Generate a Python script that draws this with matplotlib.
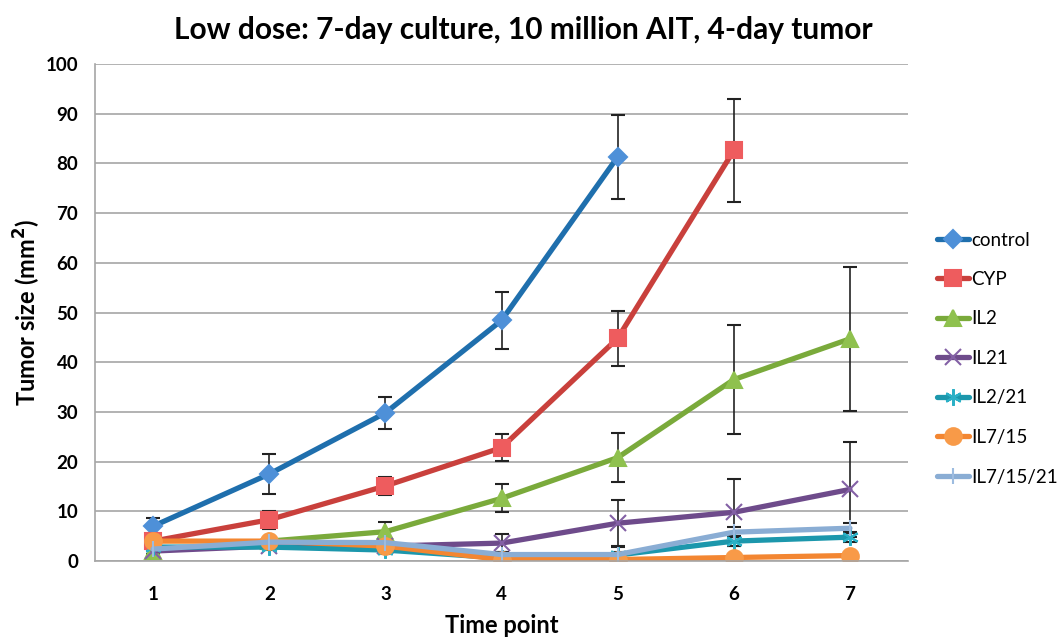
import matplotlib
matplotlib.use('Agg')
import matplotlib.pyplot as plt
import numpy as np

# data
time_points = [1, 2, 3, 4, 5, 6, 7]
series_names = ['control', 'CYP', 'IL2', 'IL21', 'IL2/21', 'IL7/15', 'IL7/15/21']

control = [7.0, 17.5, 29.8, 48.4, 81.3, np.nan, np.nan]
control_err = [1.6, 4.0, 3.2, 5.8, 8.5, np.nan, np.nan]
cyp = [4.0, 8.3, 15.1, 22.8, 44.8, 82.6, np.nan]
cyp_err = [0.6, 1.8, 1.8, 2.7, 5.6, 10.4, np.nan]
il2 = [2.0, 4.0, 5.9, 12.6, 20.8, 36.5, 44.7]
il2_err = [0.5, 0.6, 2.0, 2.8, 5.0, 11.0, 14.5]
il21 = [2.0, 3.0, 3.0, 3.6, 7.6, 9.8, 14.4]
il21_err = [0.5, 0.6, 0.8, 1.8, 4.6, 6.7, 9.6]
il2_21 = [2.8, 2.8, 2.2, 0.6, 1.2, 4.0, 4.8]
il2_21_err = [0.6, 0.6, 0.7, 0.4, 0.6, 1.0, 1.0]
il7_15 = [4.0, 4.0, 3.0, 0.3, 0.3, 0.7, 1.1]
il7_15_err = [0.4, 0.4, 0.5, 0.2, 0.2, 0.3, 0.3]
il7_15_21 = [2.4, 3.8, 3.7, 1.3, 1.3, 5.8, 6.6]
il7_15_21_err = [0.4, 0.5, 0.5, 0.5, 1.5, 1.0, 1.0]

values = [control, cyp, il2, il21, il2_21, il7_15, il7_15_21]
errors = [control_err, cyp_err, il2_err, il21_err, il2_21_err, il7_15_err, il7_15_21_err]

line_colors = ['#1F6FAD', '#C9403C', '#7AAA3B', '#6E4B8B', '#1C97AC', '#F38631', '#8AADD4']
marker_colors = ['#4E90D8', '#EE5C5E', '#8FC14E', '#8360A5', '#2BB0C6', '#F89A48', '#9DBCE0']
markers = ['D', 's', '^', 'x', (6, 2, 0), 'o', '|']
marker_sizes = [9, 12, 11, 12, 12, 12, 12]

plt.rcParams['font.family'] = ['Lato', 'DejaVu Sans']

fig = plt.figure(figsize=(10.6, 6.43), dpi=100)
ax = fig.add_axes([95 / 1060, 1 - 561 / 643, (908 - 95) / 1060, (561 - 64) / 643])

for name, y, err, lc, mc, m, ms in zip(series_names, values, errors, line_colors,
                                       marker_colors, markers, marker_sizes):
    ax.errorbar(time_points, y, yerr=err, color=lc, lw=3.8, marker=m, ms=ms,
                mfc=mc, mec=mc, mew=1.5, ecolor='#222222', elinewidth=1.2,
                capsize=5, capthick=1.2, label=name, solid_joinstyle='round',
                solid_capstyle='round')

ax.set_xlim(0.5, 7.5)
ax.set_ylim(0, 100)
ax.set_yticks(range(0, 101, 10))
ax.set_xticks(time_points)
ax.grid(axis='y', color='#A6A6A6', lw=1.2)
ax.set_axisbelow(True)
for s in ['top', 'right']:
    ax.spines[s].set_visible(False)
ax.spines['left'].set_color('#A6A6A6')
ax.spines['bottom'].set_color('#A6A6A6')
ax.spines['left'].set_linewidth(1.2)
ax.spines['bottom'].set_linewidth(1.2)
ax.tick_params(length=0, labelsize=13.5, pad=12)
for lbl in ax.get_xticklabels() + ax.get_yticklabels():
    lbl.set_fontweight('bold')
ax.tick_params(axis='x', pad=18)

ax.set_xlabel('Time point', fontsize=17, fontweight='bold', labelpad=8)
ax.set_ylabel('Tumor size (mm$^\\mathbf{2}$)', fontsize=17, fontweight='bold', labelpad=2)

fig.text(523 / 1060, 1 - 30 / 643, 'Low dose: 7-day culture, 10 million AIT, 4-day tumor',
         ha='center', va='center', fontsize=21.5, fontweight='bold')

handles, labels = ax.get_legend_handles_labels()
handles = [h[0] for h in handles]
fig.legend(handles, labels, loc='upper left', bbox_to_anchor=(929 / 1060, 1 - 224 / 643),
           frameon=False, fontsize=13.5, handlelength=1.75, handletextpad=0.1,
           labelspacing=1.2, borderaxespad=0)

fig.savefig('out.png', dpi=100)
